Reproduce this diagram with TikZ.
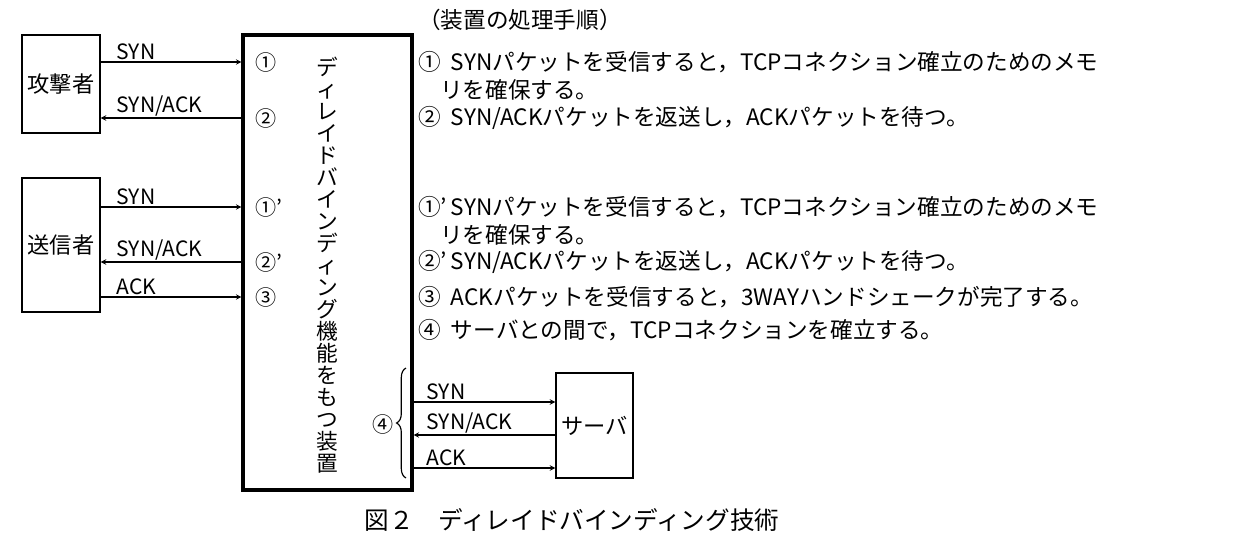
\documentclass[tikz,border=0pt]{standalone}
\usepackage{fontspec}
\setmainfont{Noto Sans CJK JP}
\usetikzlibrary{decorations.pathreplacing}
\tikzset{
  box/.style={draw, line width=1.2pt, inner sep=0pt},
  msg/.style={line width=1.1pt, -stealth},
  lbl/.style={anchor=south west, inner sep=1pt, font=\fontsize{18}{20}\selectfont},
  proc/.style={anchor=west, inner sep=0pt, font=\fontsize{19.3}{22}\selectfont},
  num/.style={inner sep=0pt, font=\fontsize{18}{22}\selectfont}
}
\begin{document}
\begin{tikzpicture}[x=0.03cm, y=-0.03cm]
\useasboundingbox (0,0) rectangle (1242,552);
% boxes
\node[box, minimum width=78*0.03cm, minimum height=98*0.03cm] (atk) at (61,84) {\fontsize{19}{22}\selectfont 攻撃者};
\node[box, minimum width=78*0.03cm, minimum height=134*0.03cm] (snd) at (61,245) {\fontsize{19}{22}\selectfont 送信者};
\node[box, line width=2.6pt, minimum width=169*0.03cm, minimum height=455*0.03cm] (dev) at (327.5,262.5) {};
\node[box, minimum width=77*0.03cm, minimum height=105*0.03cm] (srv) at (594.5,425.5) {\fontsize{19}{22}\selectfont サーバ};
% vertical label
\node[inner sep=0pt, align=center, font=\fontsize{18.5}{18.8}\selectfont] (devlbl) at (327,265)
  {デ\\ィ\\レ\\イ\\ド\\バ\\イ\\ン\\デ\\ィ\\ン\\グ\\機\\能\\を\\も\\つ\\装\\置};
% attacker
\draw[msg] (atk.east |- 0,62) -- (dev.west |- 0,62) node[lbl, pos=0.1] {SYN};
\draw[msg] (dev.west |- 0,118) -- (atk.east |- 0,118) node[lbl, pos=0.9] {SYN/ACK};
% sender
\draw[msg] (snd.east |- 0,207) -- (dev.west |- 0,207) node[lbl, pos=0.1] {SYN};
\draw[msg] (dev.west |- 0,262) -- (snd.east |- 0,262) node[lbl, pos=0.9] {SYN/ACK};
\draw[msg] (snd.east |- 0,297) -- (dev.west |- 0,297) node[lbl, pos=0.1] {ACK};
% server
\draw[msg] (dev.east |- 0,402) -- (srv.west |- 0,402) node[lbl, pos=0.08] {SYN};
\draw[msg] (srv.west |- 0,435) -- (dev.east |- 0,435) node[lbl, pos=0.92] {SYN/ACK};
\draw[msg] (dev.east |- 0,468) -- (srv.west |- 0,468) node[lbl, pos=0.08] {ACK};
\draw[line width=1pt, decorate, decoration={brace, amplitude=8pt}] (406,478) -- (406,368) coordinate (brc);
\node[num] (n4) at (383,424) {④};
% numbers inside device
\node[num, anchor=west] (n1) at (255,62) {①};
\node[num, anchor=west] (n2) at (255,118) {②};
\node[num, anchor=west] (n1d) at (255,207) {①'};
\node[num, anchor=west] (n2d) at (255,262) {②'};
\node[num, anchor=west] (n3) at (255,297) {③};
% procedure
\node[proc] (t0) at (418,20) {（装置の処理手順）};
\node[proc] (t1) at (418,62) {①\ \ SYNパケットを受信すると，TCPコネクション確立のためのメモ};
\node[proc] (t1b) at (440,90) {リを確保する。};
\node[proc] (t2) at (418,118) {②\ \ SYN/ACKパケットを返送し，ACKパケットを待つ。};
\node[proc] (t3) at (418,207) {①'\,SYNパケットを受信すると，TCPコネクション確立のためのメモ};
\node[proc] (t3b) at (440,235) {リを確保する。};
\node[proc] (t4) at (418,262) {②'\,SYN/ACKパケットを返送し，ACKパケットを待つ。};
\node[proc] (t5) at (418,297) {③\ \ ACKパケットを受信すると，3WAYハンドシェークが完了する。};
\node[proc] (t6) at (418,330) {④\ \ サーバとの間で，TCPコネクションを確立する。};
% caption
\node[inner sep=0pt, font=\fontsize{21}{24}\selectfont] (cap) at (572,520) {図２\quad ディレイドバインディング技術};
\end{tikzpicture}
\end{document}
